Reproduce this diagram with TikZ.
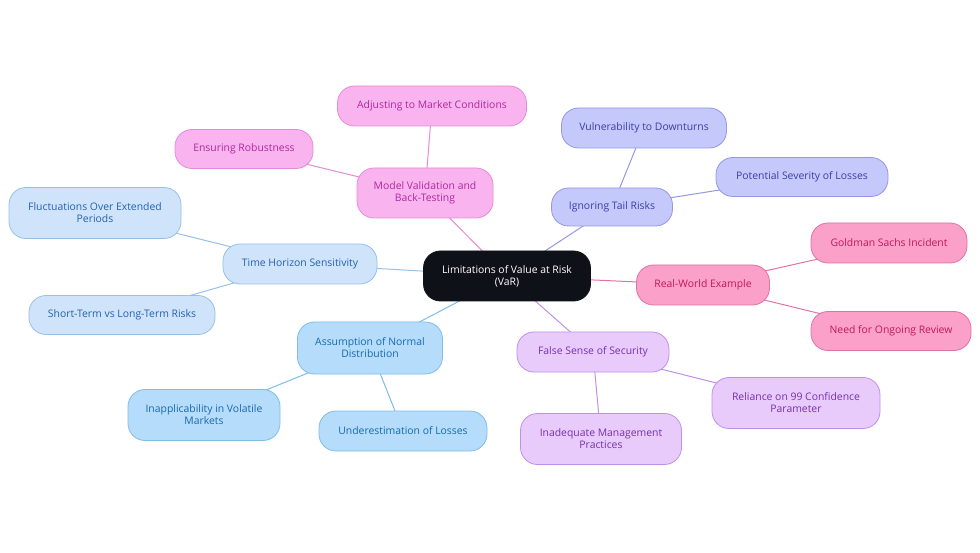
\documentclass[tikz,border=0pt]{standalone}
\usepackage{fontspec}
\setmainfont{Open Sans}
\usepackage{xcolor}
\usetikzlibrary{backgrounds}

\definecolor{rootfill}{HTML}{0F1118}
\definecolor{pinkfill}{HTML}{F9B4F0}
\definecolor{pinkline}{HTML}{E58AD8}
\definecolor{pinktext}{HTML}{B0289C}
\definecolor{indfill}{HTML}{C5C8FA}
\definecolor{indline}{HTML}{9497E3}
\definecolor{indtext}{HTML}{3C3EA6}
\definecolor{rosefill}{HTML}{FBA0C8}
\definecolor{roseline}{HTML}{E072A4}
\definecolor{rosetext}{HTML}{C0185F}
\definecolor{lavfill}{HTML}{E8CBFB}
\definecolor{lavline}{HTML}{BE90EA}
\definecolor{lavtext}{HTML}{7530B3}
\definecolor{skyfill}{HTML}{B5DDFB}
\definecolor{skyline}{HTML}{7FBCE8}
\definecolor{skytext}{HTML}{1868AE}
\definecolor{palefill}{HTML}{CFE4FB}
\definecolor{paleline}{HTML}{98BFEA}
\definecolor{paletext}{HTML}{2460B0}

\begin{document}
\begin{tikzpicture}[x=1pt, y=-1pt,
  font=\fontsize{10.4}{12}\selectfont,
  pill/.style={rounded corners=17pt, align=center, inner sep=0pt, line width=0.8pt},
  root/.style={pill, fill=rootfill, draw=rootfill, text=white},
  pinkbox/.style={pill, fill=pinkfill, draw=pinkline, text=pinktext},
  indbox/.style={pill, fill=indfill, draw=indline, text=indtext},
  rosebox/.style={pill, fill=rosefill, draw=roseline, text=rosetext},
  lavbox/.style={pill, fill=lavfill, draw=lavline, text=lavtext},
  skybox/.style={pill, fill=skyfill, draw=skyline, text=skytext},
  palebox/.style={pill, fill=palefill, draw=paleline, text=paletext},
  link/.style={line width=1pt}]
\useasboundingbox (0,0) rectangle (980,553);

% root
\node[root, minimum width=167pt, minimum height=50pt] (var) at (507,276) {Limitations of Value at Risk\\(VaR)};

% model validation
\node[pinkbox, minimum width=136pt, minimum height=50pt] (valid) at (425,193) {Model Validation and\\Back-Testing};
\node[pinkbox, minimum width=189pt, minimum height=40pt] (adjust) at (432,106) {Adjusting to Market Conditions};
\node[pinkbox, minimum width=138pt, minimum height=39pt] (robust) at (244,149) {Ensuring Robustness};

% tail risks
\node[indbox, minimum width=121pt, minimum height=38pt] (tail) at (612,207) {Ignoring Tail Risks};
\node[indbox, minimum width=165pt, minimum height=40pt] (downturn) at (644,128) {Vulnerability to Downturns};
\node[indbox, minimum width=172pt, minimum height=39pt] (severity) at (802,177) {Potential Severity of Losses};

% real-world example
\node[rosebox, minimum width=133pt, minimum height=40pt] (example) at (703,285) {Real-World Example};
\node[rosebox, minimum width=156pt, minimum height=40pt] (goldman) at (889,243) {Goldman Sachs Incident};
\node[rosebox, minimum width=160pt, minimum height=39pt] (review) at (891,331) {Need for Ongoing Review};

% false sense of security
\node[lavbox, minimum width=152pt, minimum height=40pt] (security) at (593,352) {False Sense of Security};
\node[lavbox, minimum width=168pt, minimum height=51pt] (reliance) at (796,403) {Reliance on 99 Confidence\\Parameter};
\node[lavbox, minimum width=161pt, minimum height=51pt] (practice) at (601,439) {Inadequate Management\\Practices};

% normal distribution
\node[skybox, minimum width=145pt, minimum height=52pt] (normal) at (370,348) {Assumption of Normal\\Distribution};
\node[skybox, minimum width=152pt, minimum height=51pt] (volatile) at (204,415) {Inapplicability in Volatile\\Markets};
\node[skybox, minimum width=168pt, minimum height=40pt] (underest) at (403,431) {Underestimation of Losses};

% time horizon
\node[palebox, minimum width=154pt, minimum height=40pt] (horizon) at (300,264) {Time Horizon Sensitivity};
\node[palebox, minimum width=172pt, minimum height=51pt] (fluct) at (95,213) {Fluctuations Over Extended\\Periods};
\node[palebox, minimum width=186pt, minimum height=39pt] (shortlong) at (122,315) {Short-Term vs Long-Term Risks};

% connectors
\begin{scope}[on background layer]
\draw[link, pinkline] (var.center) -- (valid.center);
\draw[link, pinkline] (valid.center) -- (adjust.center);
\draw[link, pinkline] (valid.center) -- (robust.center);
\draw[link, indline] (var.center) -- (tail.center);
\draw[link, indline] (tail.center) -- (downturn.center);
\draw[link, indline] (tail.center) -- (severity.center);
\draw[link, roseline] (var.center) -- (example.center);
\draw[link, roseline] (example.center) -- (goldman.center);
\draw[link, roseline] (example.center) -- (review.center);
\draw[link, lavline] (var.center) -- (security.center);
\draw[link, lavline] (security.center) -- (reliance.center);
\draw[link, lavline] (security.center) -- (practice.center);
\draw[link, skyline] (var.center) -- (normal.center);
\draw[link, skyline] (normal.center) -- (volatile.center);
\draw[link, skyline] (normal.center) -- (underest.center);
\draw[link, paleline] (var.center) -- (horizon.center);
\draw[link, paleline] (horizon.center) -- (fluct.center);
\draw[link, paleline] (horizon.center) -- (shortlong.center);
\end{scope}
\end{tikzpicture}
\end{document}
